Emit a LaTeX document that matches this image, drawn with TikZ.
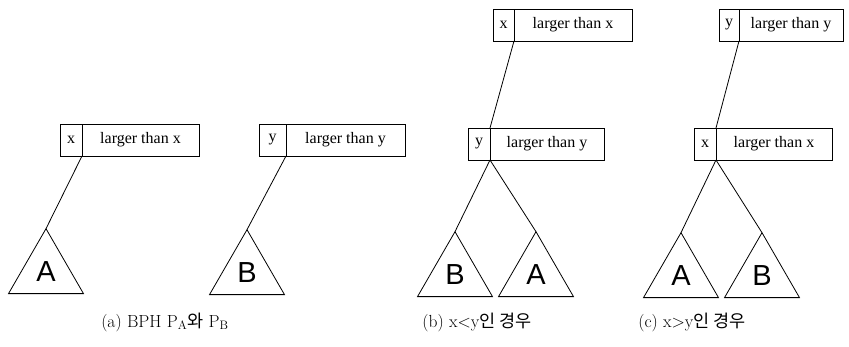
\documentclass[tikz,border=0pt]{standalone}
\usepackage{fontspec}
\usetikzlibrary{positioning,shapes.geometric}
\newfontfamily\boxfont{Liberation Serif}
\newfontfamily\letterfont{Liberation Sans}
\newfontfamily\krfont{Noto Sans CJK KR}

\tikzset{
  keybox/.style={draw, minimum width=22pt, minimum height=32pt, inner sep=0pt, outer sep=0pt, font=\boxfont\fontsize{16}{16}\selectfont},
  valbox/.style={keybox, minimum width=117pt},
  subtree/.style={draw, regular polygon, regular polygon sides=3, minimum size=86.6pt, inner sep=0pt, outer sep=0pt, font=\letterfont\fontsize{29}{29}\selectfont},
  caption/.style={font=\fontsize{17.5}{17.5}\selectfont, inner sep=0pt}
}

\begin{document}
\begin{tikzpicture}[x=1pt, y=-1pt, line width=0.8pt]
  \useasboundingbox (0,0) rectangle (849,347);

  % (a) the two heaps
  \node[keybox, anchor=north west] (ax) at (60,124) {x};
  \node[valbox, right=0pt of ax] (axv) {larger than x};
  \node[subtree] (aA) at (46,272) {A};
  \draw (ax.south east) -- (aA.corner 1);

  \node[keybox, minimum width=27pt, anchor=north west] (ay) at (259,124) {y};
  \node[valbox, minimum width=119pt, right=0pt of ay] (ayv) {larger than y};
  \node[subtree] (aB) at (247,273) {B};
  \draw (ay.south east) -- (aB.corner 1);

  \node[caption] (capa) at (165,322) {(a) BPH P$_{\mathrm{A}}${\krfont 와} P$_{\mathrm{B}}$};

  % (b) x<y
  \node[keybox, minimum width=21pt, anchor=north west] (bx) at (493,9) {x};
  \node[valbox, minimum width=118pt, right=0pt of bx] (bxv) {larger than x};
  \node[keybox, anchor=north west] (by) at (468,128) {y};
  \node[valbox, minimum width=114pt, right=0pt of by] (byv) {larger than y};
  \node[subtree] (bB) at (455,275) {B};
  \node[subtree] (bA) at (536,275) {A};
  \draw (bx.south east) -- (by.north east);
  \draw (by.south east) -- (bB.corner 1);
  \draw (by.south east) -- (bA.corner 1);

  \node[caption] (capb) at (477,322) {(b) x<y{\krfont 인 경우}};

  % (c) x>y
  \node[keybox, minimum width=20pt, anchor=north west] (cy) at (719,9) {y};
  \node[valbox, minimum width=104pt, right=0pt of cy] (cyv) {larger than y};
  \node[keybox, anchor=north west] (cx) at (694,128) {x};
  \node[valbox, minimum width=116pt, right=0pt of cx] (cxv) {larger than x};
  \node[subtree] (cA) at (681,276) {A};
  \node[subtree] (cB) at (762,276) {B};
  \draw (cy.south east) -- (cx.north east);
  \draw (cx.south east) -- (cA.corner 1);
  \draw (cx.south east) -- (cB.corner 1);

  \node[caption] (capc) at (692,322) {(c) x>y{\krfont 인 경우}};
\end{tikzpicture}
\end{document}
